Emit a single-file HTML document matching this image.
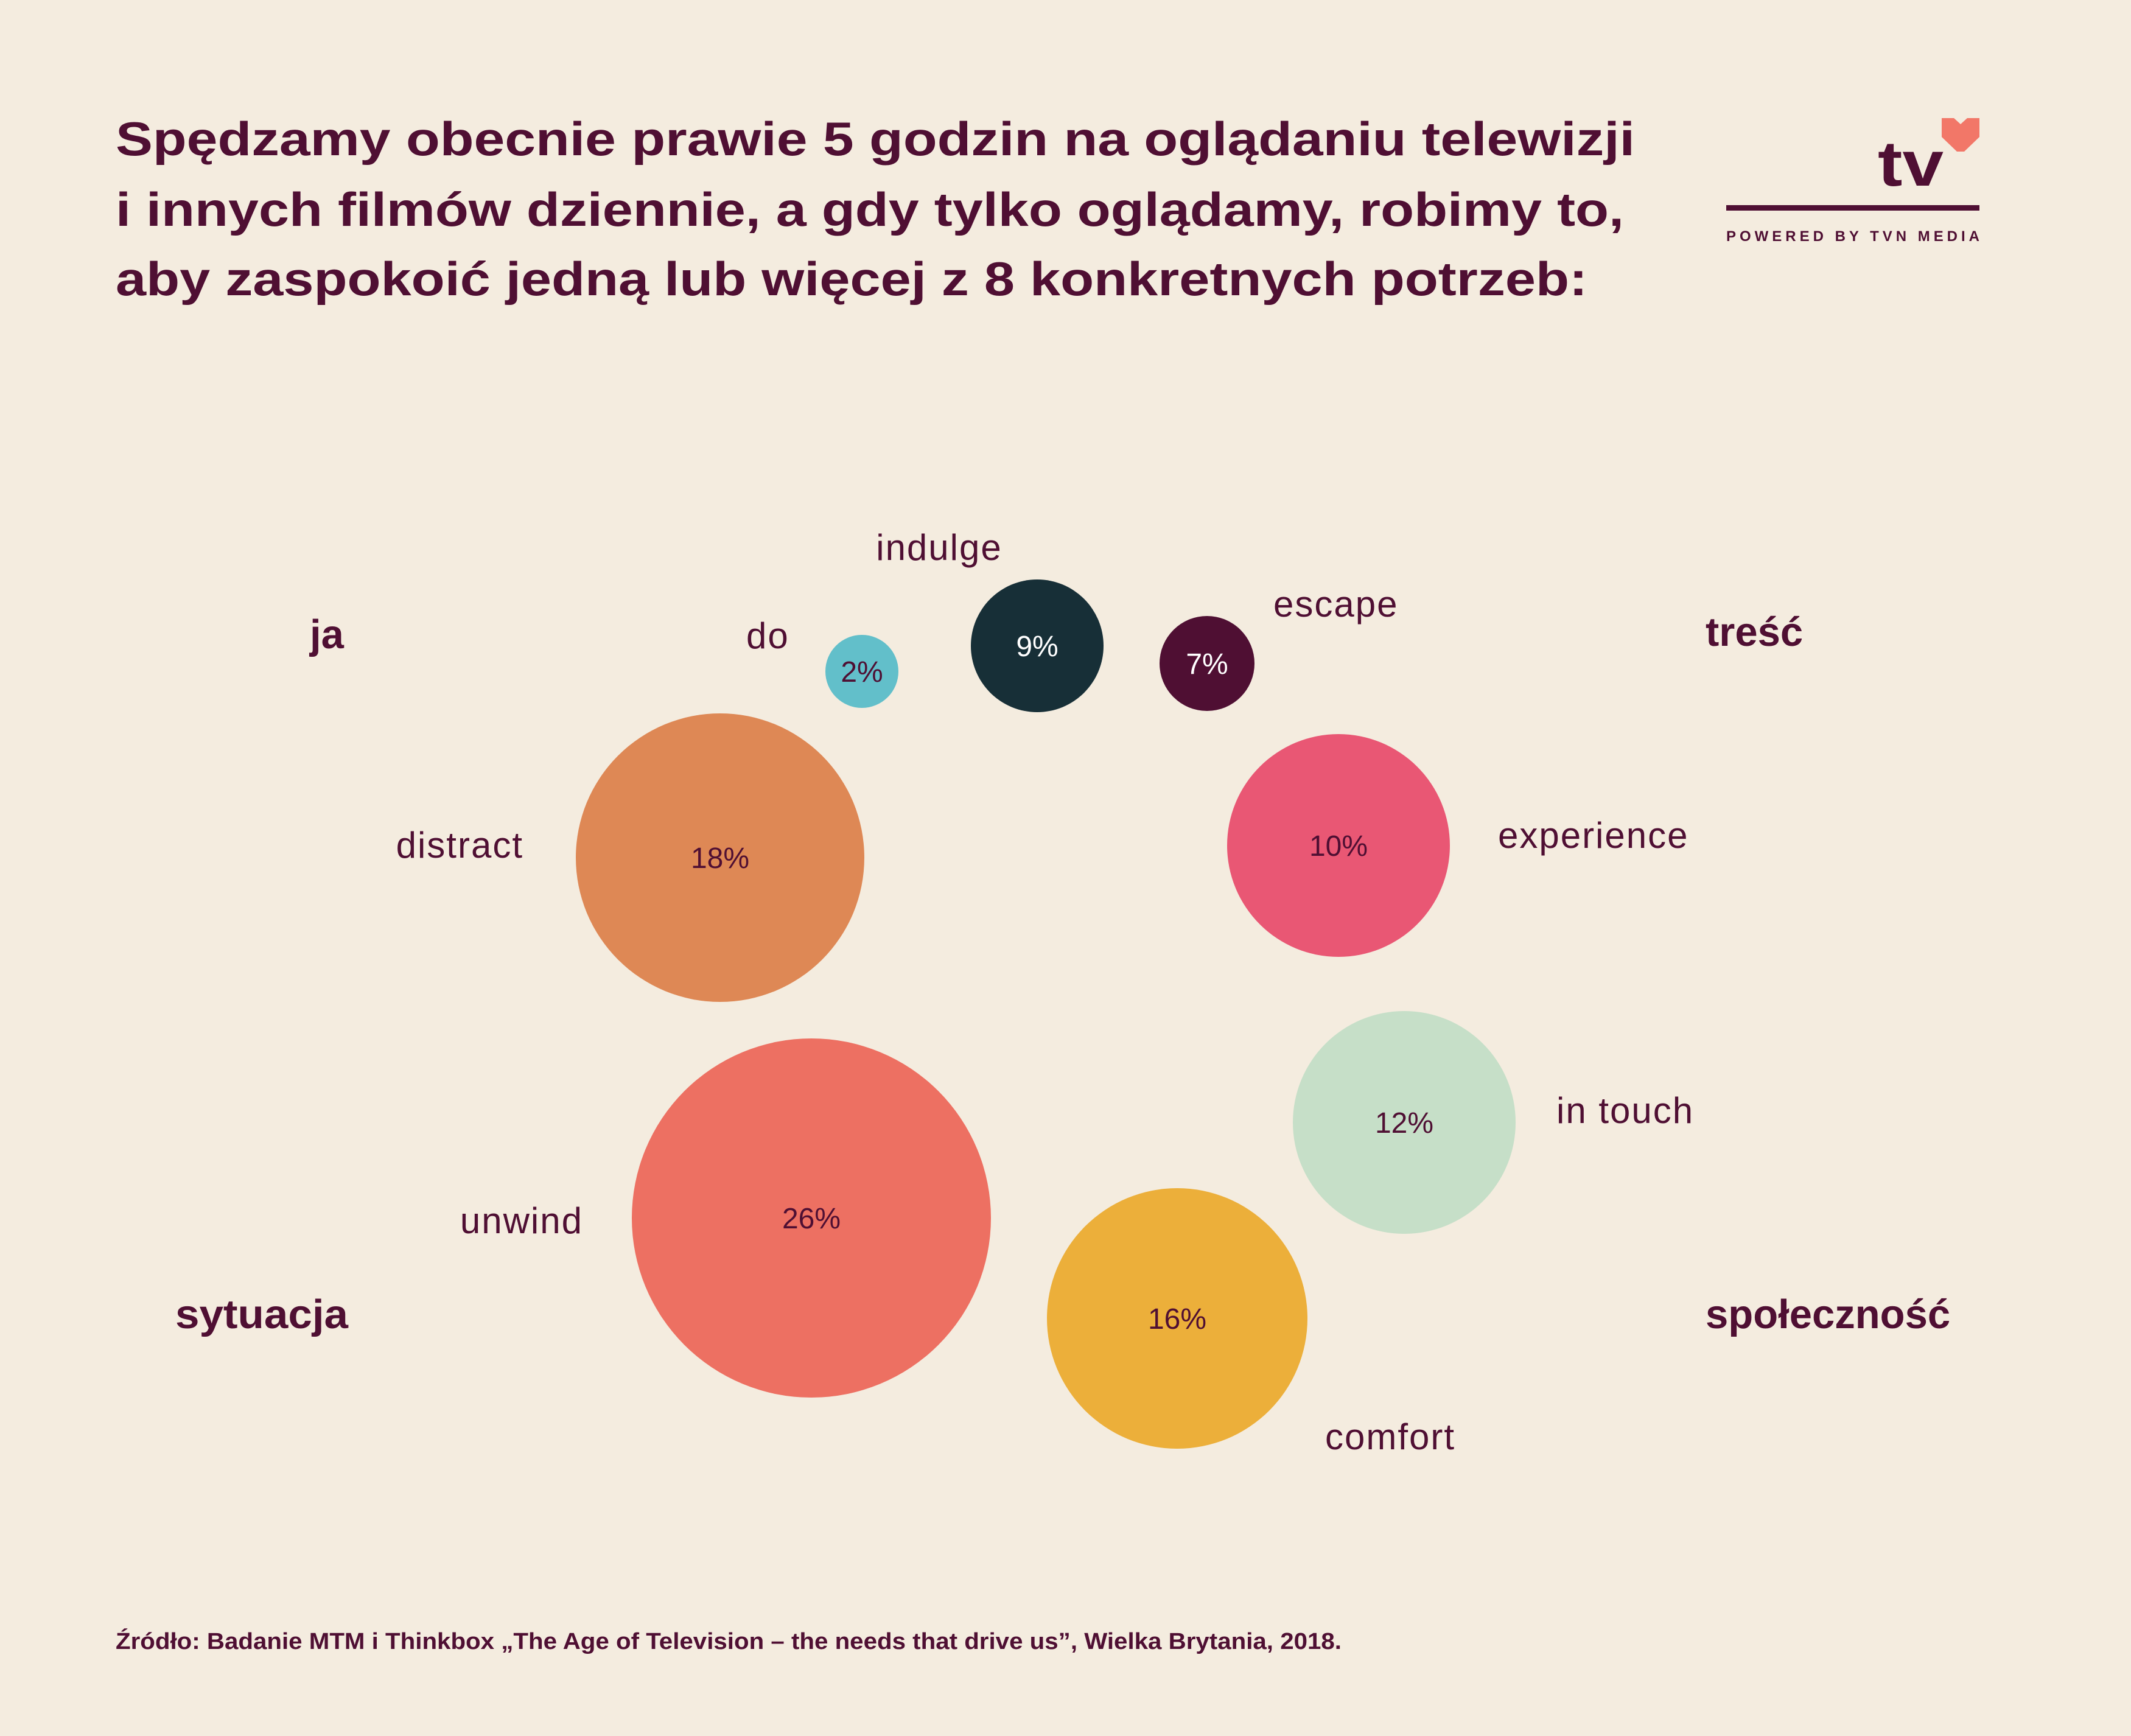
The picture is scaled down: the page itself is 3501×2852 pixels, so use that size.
<!DOCTYPE html>
<html><head><meta charset="utf-8"><style>
html,body{margin:0;padding:0;background:#f4ecdf;}
svg{display:block;}
</style></head><body>
<svg id="chart" width="3501" height="2852" viewBox="0 0 3501 2852" xmlns="http://www.w3.org/2000/svg">
<rect width="3501" height="2852" fill="#f4ecdf"/>
<g font-family="Liberation Sans, sans-serif" font-weight="bold" fill="#4f0f33" font-size="78">
<text x="190" y="255" textLength="2496" lengthAdjust="spacingAndGlyphs">Spędzamy obecnie prawie 5 godzin na oglądaniu telewizji</text>
<text x="190" y="371" textLength="2478" lengthAdjust="spacingAndGlyphs">i innych filmów dziennie, a gdy tylko oglądamy, robimy to,</text>
<text x="190" y="485" textLength="2418" lengthAdjust="spacingAndGlyphs">aby zaspokoić jedną lub więcej z 8 konkretnych potrzeb:</text>
</g>
<g>
<text x="3085" y="305" font-family="Liberation Sans, sans-serif" font-weight="bold" font-size="105" fill="#4f0f33" textLength="108" lengthAdjust="spacingAndGlyphs">tv</text>
<polygon points="3190,194 3210,194 3221,204 3232,194 3252,194 3252,225 3227,249 3215,249 3190,225" fill="#f27768"/>
<rect x="2836" y="337" width="416" height="9" fill="#4f0f33"/>
<text x="2836" y="396" font-family="Liberation Sans, sans-serif" font-weight="bold" font-size="24" fill="#4f0f33" textLength="416" lengthAdjust="spacing">POWERED BY TVN MEDIA</text>
</g>
<g id="bubbles"></g>
<g font-family="Liberation Sans, sans-serif" font-weight="bold" font-size="67" fill="#4f0f33">
<text x="509" y="1065">ja</text>
<text x="2802" y="1061">treść</text>
<text x="288" y="2182" textLength="284" lengthAdjust="spacingAndGlyphs">sytuacja</text>
<text x="2802" y="2182">społeczność</text>
</g>
<text x="190" y="2709" font-family="Liberation Sans, sans-serif" font-weight="bold" font-size="38" fill="#4f0f33" textLength="2014" lengthAdjust="spacingAndGlyphs">Źródło: Badanie MTM i Thinkbox „The Age of Television – the needs that drive us”, Wielka Brytania, 2018.</text>
</svg>
<script>
const needs = ["do","indulge","escape","distract","experience","in touch","unwind","comfort"];
const shares = [2,9,7,18,10,12,26,16];
const shareLabels = ["2%","9%","7%","18%","10%","12%","26%","16%"];

// size scale (piecewise linear, value -> radius in px)
const rDomain=[0,2,7,9,10,12,16,18,26,40];
const rRange=[0,60,78,109,183,183,214,237,295,420];
function rScale(v){
  for(let i=0;i<rDomain.length-1;i++){
    if(v<=rDomain[i+1]){const t=(v-rDomain[i])/(rDomain[i+1]-rDomain[i]);return rRange[i]+t*(rRange[i+1]-rRange[i]);}
  }
  return rRange[rRange.length-1];
}
const layout = {
  "do":{cx:1416,cy:1103,fill:"#62bfca",tc:"#4f0f33",lx:1226,ly:1045,anchor:"start"},
  "indulge":{cx:1704,cy:1061,fill:"#172f37",tc:"#ffffff",lx:1543,ly:900,anchor:"middle"},
  "escape":{cx:1983,cy:1090,fill:"#4f0f33",tc:"#ffffff",lx:2092,ly:993,anchor:"start"},
  "distract":{cx:1183,cy:1409,fill:"#de8855",tc:"#4f0f33",lx:860,ly:1389,anchor:"end"},
  "experience":{cx:2199,cy:1389,fill:"#e95774",tc:"#4f0f33",lx:2461,ly:1373,anchor:"start"},
  "in touch":{cx:2307,cy:1844,fill:"#c6dfc8",tc:"#4f0f33",lx:2557,ly:1825,anchor:"start"},
  "unwind":{cx:1333,cy:2001,fill:"#ed7062",tc:"#4f0f33",lx:958,ly:2006,anchor:"end"},
  "comfort":{cx:1934,cy:2166,fill:"#ecaf3a",tc:"#4f0f33",lx:2177,ly:2361,anchor:"start"}
};
const NS="http://www.w3.org/2000/svg";
const g=document.getElementById("bubbles");
needs.forEach((n,i)=>{
  const L=layout[n];
  const grp=document.createElementNS(NS,"g");
  
  
  const c=document.createElementNS(NS,"circle");
  c.setAttribute("cx",L.cx);c.setAttribute("cy",L.cy);c.setAttribute("r",rScale(shares[i]));c.setAttribute("fill",L.fill);
  
  
  grp.appendChild(c);
  const t=document.createElementNS(NS,"text");
  t.setAttribute("x",L.cx);t.setAttribute("y",L.cy+17);t.setAttribute("text-anchor","middle");
  t.setAttribute("font-family","Liberation Sans, sans-serif");t.setAttribute("font-size","48");t.setAttribute("fill",L.tc);
  t.textContent=shareLabels[i];
  
  
  grp.appendChild(t);
  const l=document.createElementNS(NS,"text");
  l.setAttribute("x",L.lx);l.setAttribute("y",L.ly+20);l.setAttribute("text-anchor",L.anchor);
  l.setAttribute("font-family","Liberation Sans, sans-serif");l.setAttribute("font-size","60");l.setAttribute("fill","#4f0f33");
  l.setAttribute("letter-spacing","2");
  l.textContent=n;
  
  
  grp.appendChild(l);
  g.appendChild(grp);
});
</script>
</body></html>
